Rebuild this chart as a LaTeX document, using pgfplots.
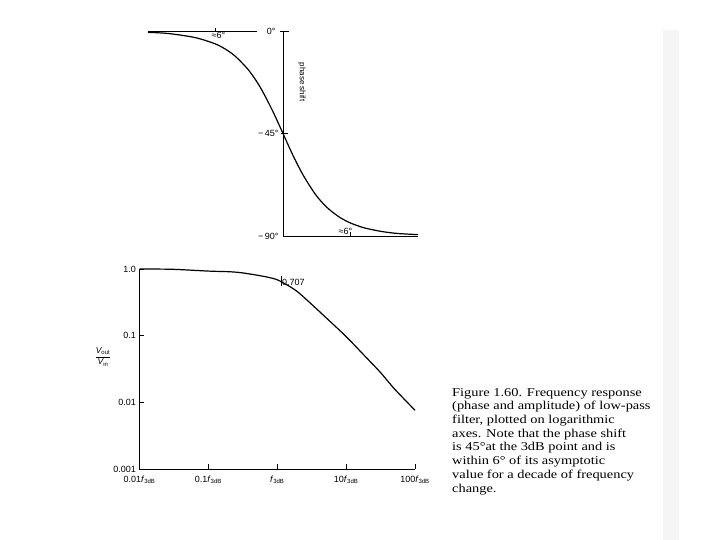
\documentclass[border=0pt]{standalone}
\usepackage{fontspec}
\usepackage{amsmath}
\usepackage{pgfplots}
\pgfplotsset{compat=1.18}
\setmainfont{Liberation Sans}
\newfontfamily\capfont[FakeStretch=1.2]{Liberation Serif}
\newcommand\fd{\textit{f}\textsubscript{3dB}}
\newcommand\lab{\fontsize{9}{10}\selectfont}

\begin{document}
\begin{tikzpicture}
\path[fill=white,use as bounding box] (0pt,0pt) rectangle (720pt,540pt);
\fill[black!4] (663pt,0pt) rectangle (679pt,510pt);

% phase shift
\begin{axis}[
  at={(148pt,304pt)}, anchor=south west,
  scale only axis, width=270pt, height=205pt,
  xmode=log, xmin=0.01, xmax=100, ymin=-90, ymax=0,
  hide axis, clip=false,
]
\addplot[black, line width=1.2pt, smooth] coordinates {
  (0.01,-0.6) (0.02,-1.1) (0.05,-2.9) (0.1,-5.7) (0.15,-8.5) (0.2,-11.3)
  (0.3,-16.7) (0.4,-21.8) (0.5,-26.6) (0.7,-35.0) (1,-45) (1.4,-54.5)
  (2,-63.4) (3,-71.6) (4,-76.0) (5,-78.7) (7,-81.9) (10,-84.3)
  (15,-86.2) (20,-87.1) (30,-88.1) (50,-88.9) (100,-89.4)
};
\draw[line width=0.9pt] (axis cs:1,0) -- (axis cs:1,-90) -- (axis cs:100,-90);
\draw[line width=0.9pt] (axis cs:0.01,0) -- (axis cs:0.41,0);
\draw[line width=0.9pt] ([xshift=-3pt]axis cs:1,0) -- ([xshift=6pt]axis cs:1,0);
\draw[line width=0.8pt] ([xshift=-2pt]axis cs:1,-45) -- ([xshift=5pt]axis cs:1,-45);
\draw[line width=0.7pt] (axis cs:0.1,0) -- ([yshift=3pt]axis cs:0.1,0);
\draw[line width=0.7pt] (axis cs:10,-90) -- ([yshift=4pt]axis cs:10,-90);
\node[anchor=east, font=\lab] at ([xshift=-4pt]axis cs:1,0) {0°};
\node[anchor=east, font=\lab] at ([xshift=-1pt]axis cs:1,-45) {−\,45°};
\node[anchor=east, font=\lab] at ([xshift=-1pt]axis cs:1,-90) {−\,90°};
\node[anchor=north, font=\lab, inner sep=1pt] at ([xshift=3pt]axis cs:0.1,0) {≈6°};
\node[anchor=south, font=\lab, inner sep=1pt] at ([xshift=-5pt]axis cs:10,-90) {≈6°};
\node[rotate=-90, font=\fontsize{8}{9}\selectfont] at ([xshift=19pt]axis cs:1,-22.4) {phase shift};
\end{axis}

% amplitude
\begin{axis}[
  at={(139.5pt,71pt)}, anchor=south west,
  scale only axis, width=275.5pt, height=200pt,
  xmode=log, ymode=log, xmin=0.01, xmax=100, ymin=0.001, ymax=1,
  axis x line=bottom, axis y line=left,
  axis line style={-, line width=0.9pt},
  tick align=inside, major tick length=5pt,
  major tick style={black, line width=0.8pt},
  minor tick style={draw=none},
  xtick={0.01,0.1,1,10,100},
  xticklabels={0.01\fd, 0.1\fd, \fd, 10\fd, 100\fd},
  ytick={0.001,0.01,0.1,1},
  yticklabels={0.001,0.01,0.1,1.0},
  tick label style={font=\lab},
  xticklabel style={yshift=-3pt},
  clip=false,
]
\addplot[black, line width=1.2pt, smooth, tension=0.4] coordinates {
  (0.01,1.0) (0.03,0.99) (0.1,0.93) (0.2,0.91) (0.3,0.88) (0.5,0.81)
  (0.7,0.76) (1,0.69) (1.5,0.55) (2,0.45) (3,0.31) (5,0.19) (10,0.097)
  (20,0.046) (31.6,0.028) (50,0.016) (100,0.0076)
};
\addplot[black, line width=0.7pt] coordinates {(1.13,0.56) (1.13,0.79)};
\node[anchor=west, font=\lab, inner sep=1pt] at (axis cs:1.13,0.62) {0.707};
\end{axis}

\node[font=\fontsize{8.5}{10}\selectfont] at (103pt,183pt)
  {$\dfrac{\textit{V}_{\text{out}}}{\textit{V}_{\text{in}}}$};

\node[anchor=north west, inner sep=0pt, align=left,
  font=\capfont\fontsize{12}{13.7}\selectfont] at (452pt,152pt)
  {Figure 1.60. Frequency response\\
   (phase and amplitude) of low-pass\\
   filter, plotted on logarithmic\\
   axes. Note that the phase shift\\
   is 45°at the 3dB point and is\\
   within 6° of its asymptotic\\
   value for a decade of frequency\\
   change.};
\end{tikzpicture}
\end{document}
